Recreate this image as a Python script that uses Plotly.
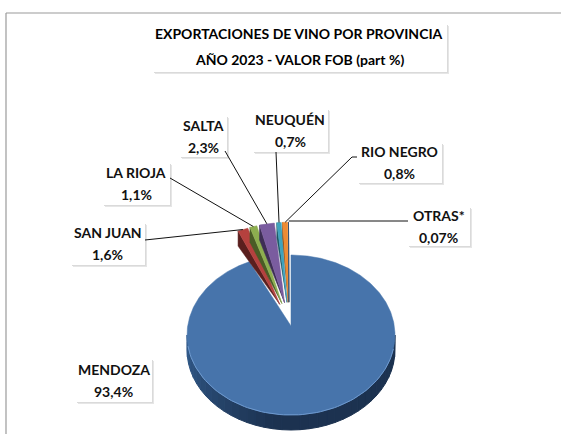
import numpy as np
import plotly.graph_objects as go

categories = ["MENDOZA", "SAN JUAN", "LA RIOJA", "SALTA", "NEUQUÉN", "RIO NEGRO", "OTRAS*"]
values = [93.4, 1.6, 1.1, 2.3, 0.7, 0.8, 0.07]
value_labels = ["93,4%", "1,6%", "1,1%", "2,3%", "0,7%", "0,8%", "0,07%"]
top_colors = ["#4774AB", "#B5413E", "#8DAE4F", "#7A5C9F", "#3FA3BD", "#EE8B33", "#2C4D75"]
side_colors = ["#24426A", "#5A1F1E", "#4A5C26", "#3E2E55", "#1F5665", "#7D4715", "#1A2E48"]
title_lines = ["EXPORTACIONES DE VINO POR PROVINCIA", "AÑO 2023 - VALOR FOB (part %)"]

# label boxes: x0, y0, x1, y1 in pixels
boxes = [(75, 358, 152, 402), (70, 222, 145, 265), (102, 162, 170, 205), (179, 115, 227, 157),
         (252, 108, 328, 152), (357, 142, 442, 183), (407, 206, 470, 246)]
leader_starts = [None, (145, 240), (170, 178), (225, 151), (276, 152), (352, 157), (408, 221)]

CX, CY, RX, RY, DEPTH = 291, 335, 104, 80, 15
APEX_Y = 326
PULL_X, PULL_Y = 0.25, 0.41
FONT = "Lato, Carlito, Arial, sans-serif"

total = sum(values)
sweeps = [v / total * 360 for v in values]
starts = np.cumsum([0] + sweeps[:-1])


def pt(a_deg, ox=0.0, oy=0.0, r=1.0):
    a = np.radians(a_deg)
    return ox + CX + RX * r * np.sin(a), oy + CY - RY * r * np.cos(a)


fig = go.Figure()
offset = []
for i, (s, w) in enumerate(zip(starts, sweeps)):
    mid = np.radians(s + w / 2)
    if i == 0:
        offset.append((0.0, 0.0))
    else:
        offset.append((RX * PULL_X * np.sin(mid) - 2, -RY * PULL_Y * np.cos(mid)))

# Mendoza side wall
n_seg = 36
edges = np.linspace(90, 270, n_seg + 1)
c_mid = np.array([0x1C, 0x32, 0x50])
c_left = np.array([0x33, 0x5C, 0x8C])
for a0, a1 in zip(edges[:-1], edges[1:]):
    t = ((a0 + a1) / 2 - 90) / 180
    col = c_mid + (c_left - c_mid) * max(0, (t - 0.55) / 0.45)
    arc = np.linspace(a0, a1, 5)
    x, y = pt(arc)
    xs = np.r_[x, x[::-1], x[0]]
    ys = np.r_[y, y[::-1] + DEPTH, y[0]]
    hex_col = "#%02X%02X%02X" % tuple(int(v) for v in col)
    fig.add_trace(go.Scatter(x=xs, y=ys, mode="lines", fill="toself", fillcolor=hex_col,
                             line=dict(color=hex_col, width=1), hoverinfo="skip", showlegend=False))

# Top faces and cut faces
for i, (s, w) in enumerate(zip(starts, sweeps)):
    ox, oy = offset[i]
    ax, ay = CX + ox, (APEX_Y if i == 0 else CY + oy)
    if i > 0:
        ex, ey = pt(s, ox, oy)
        fig.add_trace(go.Scatter(x=[ax, ex, ex, ax], y=[ay, ey, ey + DEPTH, ay],
                                 mode="lines", fill="toself", fillcolor=side_colors[i],
                                 line=dict(color=side_colors[i], width=0.5),
                                 hoverinfo="skip", showlegend=False))
    arc = np.linspace(s, s + w, max(4, int(w * 2)))
    x, y = pt(arc, ox, oy)
    xs = np.r_[ax, x, ax]
    ys = np.r_[ay, y, ay]
    fig.add_trace(go.Scatter(x=xs, y=ys, mode="lines", fill="toself", fillcolor=top_colors[i],
                             line=dict(color=top_colors[i], width=0.5), name=categories[i],
                             text=f"{categories[i]}: {value_labels[i]}", hoverinfo="text",
                             hoveron="fills", showlegend=False))

# Highlight along the front rim
rx, ry = pt(np.linspace(100, 262, 80))
fig.add_trace(go.Scatter(x=rx, y=ry, mode="lines", line=dict(color="#6E9AD0", width=1),
                         hoverinfo="skip", showlegend=False))

# Leader lines
for i in range(1, len(categories)):
    sx, sy = leader_starts[i]
    tx, ty = pt(starts[i] + sweeps[i] / 2, offset[i][0], offset[i][1])
    xs, ys = [sx, tx], [sy, ty]
    if categories[i] == "RIO NEGRO":
        xs, ys = [sx + 5, sx, tx], [sy, sy, ty]
    if categories[i] == "OTRAS*":
        ys = [sy, sy]
    fig.add_trace(go.Scatter(x=xs, y=ys, mode="lines", line=dict(color="#111111", width=1),
                             hoverinfo="skip", showlegend=False))

shapes = []


def boxed(x0, y0, x1, y1):
    for d, col in ((3, "#E6E6E6"), (2, "#DADADA")):
        shapes.append(dict(type="rect", xref="x", yref="y", x0=x0 + d, x1=x1 + d - 1, y0=y0 + d, y1=y1 + d - 1,
                           fillcolor=col, line_width=0, layer="below"))
    shapes.append(dict(type="rect", xref="x", yref="y", x0=x0, x1=x1, y0=y0, y1=y1,
                       fillcolor="white", line_width=0, layer="below"))


# Chart frame
shapes.append(dict(type="line", xref="x", yref="y", x0=6, x1=561, y0=13, y1=13,
                   line=dict(color="#9A9A9A", width=1.2), layer="below"))
shapes.append(dict(type="line", xref="x", yref="y", x0=6, x1=6, y0=13, y1=434,
                   line=dict(color="#9A9A9A", width=1.2), layer="below"))

annotations = []


def two_lines(cx, y0, y1, first, second, color):
    for y, text in ((y0, first), (y1, second)):
        annotations.append(dict(x=cx, y=y, xref="x", yref="y", showarrow=False, text=f"<b>{text}</b>",
                                font=dict(family=FONT, size=14, color=color), align="center"))


boxed(152, 23, 447, 72)
two_lines(299, 33, 59, title_lines[0], title_lines[1], "#000000")
for i, b in enumerate(boxes):
    boxed(*b)
    mid_y = (b[1] + b[3]) / 2
    two_lines((b[0] + b[2]) / 2, mid_y - 11, mid_y + 11, categories[i], value_labels[i], "#111111")

fig.update_layout(
    width=561, height=434, margin=dict(l=0, r=0, t=0, b=0),
    paper_bgcolor="white", plot_bgcolor="white", showlegend=False,
    xaxis=dict(range=[0, 561], visible=False, fixedrange=True),
    yaxis=dict(range=[434, 0], visible=False, fixedrange=True),
    shapes=shapes, annotations=annotations,
)
fig.write_html("out.html", config={"displayModeBar": False},
               post_script="document.body.style.margin='0';document.documentElement.style.overflow='hidden';")
